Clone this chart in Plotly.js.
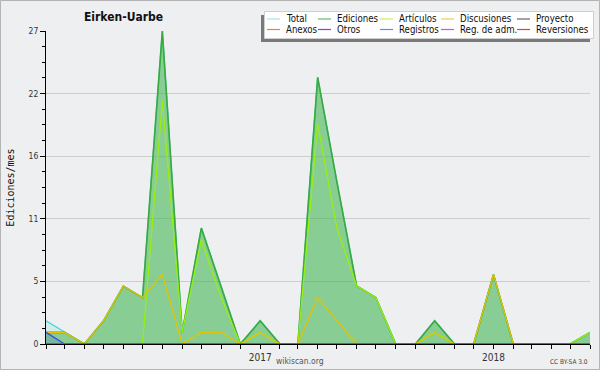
<!DOCTYPE html>
<html>
<head>
<meta charset="utf-8">
<script src="https://cdn.plot.ly/plotly-3.0.1.min.js"></script>
<style>
html,body{margin:0;padding:0;background:#eeeff1;}
#chart{width:600px;height:370px;}
</style>
</head>
<body>
<div id="chart"></div>
<script>
// ---- data ----
const months = ['2016-02-01','2016-03-01','2016-04-01','2016-05-01','2016-06-01','2016-07-01','2016-08-01','2016-09-01','2016-10-01','2016-11-01','2016-12-01','2017-01-01','2017-02-01','2017-03-01','2017-04-01','2017-05-01','2017-06-01','2017-07-01','2017-08-01','2017-09-01','2017-10-01','2017-11-01','2017-12-01','2018-01-01','2018-02-01','2018-03-01','2018-04-01','2018-05-01','2018-06-01'];
const total       = [2,1,0,2,5,4,27,1,10,5,0,2,0,0,23,14,5,4,0,0,2,0,0,6,0,0,0,0,1];
const ediciones   = [1,1,0,2,5,4,27,1,10,5,0,2,0,0,23,14,5,4,0,0,2,0,0,6,0,0,0,0,1];
const articulos   = [0,0,0,0,0,0,21,1,9,4,0,1,0,0,19,10,5,4,0,0,1,0,0,0,0,0,0,0,1];
const discusiones = [1,1,0,2,5,4,6,0,1,1,0,1,0,0,4,2,0,0,0,0,1,0,0,6,0,0,0,0,0];
const proyecto    = [0,0,0,0,0,0,0,0,0,0,0,0,0,0,0,0,0,0,0,0,0,0,0,0,0,0,0,0,0];
const anexos      = [0,0,0,0,0,0,0,0,0,0,0,0,0,0,0,0,0,0,0,0,0,0,0,0,0,0,0,0,0];
const otros       = [0,0,0,0,0,0,0,0,0,0,0,0,0,0,0,0,0,0,0,0,0,0,0,0,0,0,0,0,0];
const registros   = [1,0,0,0,0,0,0,0,0,0,0,0,0,0,0,0,0,0,0,0,0,0,0,0,0,0,0,0,0];
const regAdm      = [0,0,0,0,0,0,0,0,0,0,0,0,0,0,0,0,0,0,0,0,0,0,0,0,0,0,0,0,0];
const reversiones = [0,0,0,0,0,0,0,0,0,0,0,0,0,0,0,0,0,0,0,0,0,0,0,0,0,0,0,0,0];

const seriesNames = ['Total','Ediciones','Artículos','Discusiones','Proyecto','Anexos','Otros','Registros','Reg. de adm.','Reversiones'];
const seriesData  = [total, ediciones, articulos, discusiones, proyecto, anexos, otros, registros, regAdm, reversiones];

const yTickVals = [0, 5.4, 10.8, 16.2, 21.6, 27];
const yTickText = ['0','5','11','16','22','27'];
const xTickText = months.map(m => m === '2017-01-01' ? '2017' : (m === '2018-01-01' ? '2018' : ''));

// ---- styles ----
const lineColors = ['#40d8d0','#3aaa40','#99ee11','#e6c200','#555555','#f07030','#8a30d0','#3a4de0','#d040e0','#e03030'];
const legendColors = ['#a8e4e2','#66bb6a','#c8f060','#f5c850','#666666','#f08040','#8a40d0','#7080f0','#d050e0','#e83c3c'];
const fills = ['rgba(64,216,208,0.15)','rgba(60,175,60,0.5)',null,null,null,null,null,'rgba(58,77,224,0.18)',null,null];
const widths = [1.3,1.6,1.3,1.3,1,1,1,1.3,1,1];

const FONT = 'DejaVu Sans Condensed, DejaVu Sans, sans-serif';

const traces = seriesNames.map((name, i) => {
  const t = {
    type: 'scatter', mode: 'lines', name: name,
    x: months, y: seriesData[i],
    line: {color: lineColors[i], width: widths[i]},
    hoverinfo: 'x+y+name', showlegend: false
  };
  if (fills[i]) { t.fill = 'tozeroy'; t.fillcolor = fills[i]; }
  return t;
});

// pixel -> paper helpers (plot area: x 46..590, y 31..344)
const L = 46, R = 590, T = 31, B = 344;
const px = x => (x - L) / (R - L);
const py = y => (B - y) / (B - T);

const shapes = [
  // outer frame
  {type:'rect', xref:'paper', yref:'paper', x0:px(0.5), x1:px(599.5), y0:py(369.5), y1:py(0.5), line:{color:'#b4b4b4', width:1}, fillcolor:'rgba(0,0,0,0)', layer:'above'},
  // legend shadow
  {type:'rect', xref:'paper', yref:'paper', x0:px(261), x1:px(590), y0:py(42), y1:py(15), line:{width:0}, fillcolor:'#7a7a7a', layer:'above'},
  // legend box
  {type:'rect', xref:'paper', yref:'paper', x0:px(264.5), x1:px(593.5), y0:py(38.5), y1:py(11.5), line:{color:'#cfcfcf', width:1}, fillcolor:'#ffffff', layer:'above'}
];
const annotations = [];
const colX = [267, 318, 380, 441, 517];
const rowY = [19, 29.5];
// legend layout: column-major order of series into the 5x2 grid
const legendOrder = [[0,5],[1,6],[2,7],[3,8],[4,9]];
legendOrder.forEach((pair, c) => {
  pair.forEach((si, r) => {
    shapes.push({type:'line', xref:'paper', yref:'paper', x0:px(colX[c]), x1:px(colX[c]+13), y0:py(rowY[r]), y1:py(rowY[r]), line:{color:legendColors[si], width:1.2}, layer:'above'});
    annotations.push({xref:'paper', yref:'paper', x:px(colX[c]+17), y:py(rowY[r]), xanchor:'left', yanchor:'middle', showarrow:false, text:seriesNames[si], font:{family:FONT, size:9.6, color:'#111'}});
  });
});
annotations.push({xref:'paper', yref:'paper', x:px(300), y:py(360.5), xanchor:'center', yanchor:'middle', showarrow:false, text:'wikiscan.org', font:{family:FONT, size:8.5, color:'#555'}});
annotations.push({xref:'paper', yref:'paper', x:px(590), y:py(362), xanchor:'right', yanchor:'middle', showarrow:false, text:'CC BY-SA 3.0', font:{family:FONT, size:6.5, color:'#444'}});

const layout = {
  width: 600, height: 370,
  margin: {l: L, r: 600 - R, t: T, b: 370 - B, pad: 0},
  paper_bgcolor: '#eeeff1', plot_bgcolor: '#eeeff1',
  showlegend: false,
  title: {text: 'Eirken-Uarbe', x: 123.5/600, xref: 'container', xanchor: 'center', y: 1 - 17/370, yref: 'container', yanchor: 'middle', font: {family: FONT, size: 12, color: '#111', weight: 'bold'}},
  xaxis: {
    type: 'date', range: [months[0], months[months.length-1]],
    tickmode: 'array', tickvals: months, ticktext: xTickText,
    ticks: 'outside', ticklen: 4, tickcolor: '#000', tickwidth: 1,
    showline: true, linecolor: '#000', linewidth: 1,
    showgrid: false, zeroline: false,
    tickfont: {family: FONT, size: 10, color: '#333'},
    fixedrange: true
  },
  yaxis: {
    range: [0, 27],
    tickmode: 'array', tickvals: yTickVals, ticktext: yTickText,
    ticks: 'outside', ticklen: 5, tickcolor: '#000', tickwidth: 1,
    minor: {tickmode: 'linear', tick0: 0, dtick: 1.35, ticks: 'outside', ticklen: 3, tickcolor: '#000', showgrid: false},
    showline: true, linecolor: '#000', linewidth: 1,
    showgrid: true, gridcolor: '#cdcdcd', gridwidth: 1, zeroline: false,
    tickfont: {family: FONT, size: 8.5, color: '#333'},
    title: {text: 'Ediciones/mes', standoff: 12, font: {family: 'DejaVu Sans Mono, monospace', size: 10, color: '#111'}},
    fixedrange: true
  },
  shapes: shapes,
  annotations: annotations
};

Plotly.newPlot('chart', traces, layout, {displayModeBar: false, staticPlot: true});
</script>
</body>
</html>
